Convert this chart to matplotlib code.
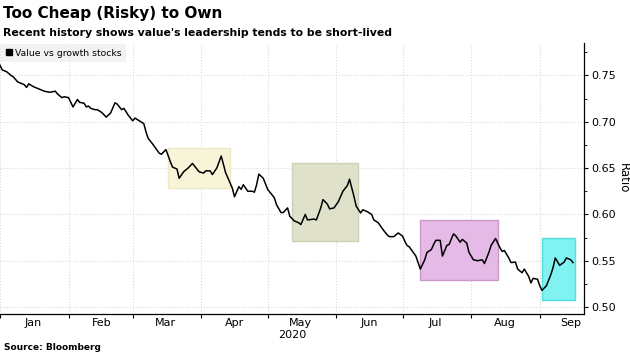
import matplotlib
matplotlib.use("Agg")
import matplotlib.pyplot as plt
import matplotlib.dates as mdates
from matplotlib.lines import Line2D
import pandas as pd

# value vs growth ratio (2020)
day_labels = [
    "01-01", "01-02", "01-04", "01-06", "01-07", "01-09", "01-12", "01-13", "01-14", "01-16",
    "01-18", "01-21", "01-23", "01-24", "01-26", "01-27", "01-29", "01-30", "02-01", "02-03",
    "02-05", "02-06", "02-08", "02-09", "02-10", "02-11", "02-13", "02-14", "02-16", "02-18",
    "02-20", "02-22", "02-23", "02-25", "02-26", "02-28", "03-01", "03-02", "03-04", "03-06",
    "03-07", "03-08", "03-10", "03-13", "03-14", "03-16", "03-18", "03-19", "03-21", "03-22",
    "03-24", "03-26", "03-28", "03-30", "03-31", "04-02", "04-03", "04-05", "04-06", "04-08",
    "04-10", "04-12", "04-15", "04-16", "04-18", "04-19", "04-20", "04-22", "04-24", "04-25",
    "04-26", "04-27", "04-29", "05-01", "05-02", "05-04", "05-05", "05-07", "05-08", "05-10",
    "05-11", "05-13", "05-15", "05-16", "05-18", "05-19", "05-22", "05-23", "05-25", "05-26",
    "05-28", "05-29", "05-31", "06-02", "06-04", "06-06", "06-07", "06-09", "06-10", "06-12",
    "06-13", "06-15", "06-17", "06-18", "06-20", "06-22", "06-24", "06-25", "06-27", "06-29",
    "07-01", "07-02", "07-03", "07-04", "07-07", "07-08", "07-09", "07-11", "07-12", "07-14",
    "07-15", "07-16", "07-18", "07-19", "07-21", "07-22", "07-24", "07-25", "07-27", "07-28",
    "07-30", "07-31", "08-02", "08-04", "08-06", "08-07", "08-09", "08-10", "08-12", "08-14",
    "08-15", "08-16", "08-18", "08-19", "08-21", "08-22", "08-24", "08-25", "08-27", "08-28",
    "08-29", "08-31", "09-01", "09-02", "09-04", "09-06", "09-07", "09-08", "09-10", "09-12",
    "09-13", "09-15", "09-16",
]
ratio = [
    0.761, 0.756, 0.754, 0.750, 0.7485, 0.743, 0.740, 0.737, 0.741, 0.738,
    0.736, 0.733, 0.732, 0.732, 0.733, 0.730, 0.726, 0.727, 0.726, 0.716,
    0.724, 0.721, 0.720, 0.716, 0.717, 0.7145, 0.713, 0.713, 0.710, 0.705,
    0.7095, 0.7205, 0.719, 0.713, 0.7145, 0.707, 0.701, 0.704, 0.701, 0.698,
    0.689, 0.682, 0.676, 0.666, 0.665, 0.670, 0.657, 0.651, 0.649, 0.639,
    0.646, 0.650, 0.655, 0.649, 0.646, 0.6446, 0.647, 0.647, 0.643, 0.650,
    0.663, 0.645, 0.6285, 0.619, 0.630, 0.627, 0.632, 0.625, 0.625, 0.624,
    0.632, 0.6435, 0.639, 0.627, 0.624, 0.618, 0.6105, 0.602, 0.602, 0.607,
    0.598, 0.593, 0.591, 0.589, 0.600, 0.594, 0.595, 0.594, 0.607, 0.616,
    0.611, 0.606, 0.607, 0.614, 0.625, 0.631, 0.638, 0.6195, 0.609, 0.6016,
    0.605, 0.603, 0.600, 0.594, 0.591, 0.584, 0.578, 0.576, 0.576, 0.580,
    0.5765, 0.571, 0.5665, 0.565, 0.555, 0.548, 0.541, 0.551, 0.559, 0.562,
    0.5675, 0.572, 0.572, 0.555, 0.5665, 0.5675, 0.579, 0.577, 0.570, 0.573,
    0.569, 0.559, 0.551, 0.550, 0.551, 0.547, 0.559, 0.5665, 0.574, 0.564,
    0.560, 0.561, 0.553, 0.548, 0.5485, 0.541, 0.537, 0.541, 0.533, 0.526,
    0.531, 0.530, 0.523, 0.518, 0.523, 0.535, 0.5425, 0.553, 0.545, 0.5485,
    0.553, 0.551, 0.548,
]

# highlighted stretches of value leadership
box_start = ["03-17", "05-12", "07-09", "09-02"]
box_end = ["04-14", "06-11", "08-13", "09-17"]
box_low = [0.629, 0.571, 0.529, 0.508]
box_high = [0.672, 0.656, 0.594, 0.575]
box_face = ["#f7f4d8", "#e0e1ca", "#e6bae6", "#80f2f2"]
box_edge = ["#eeeac4", "#cfd0b4", "#c99ac9", "#55dede"]

month_labels = ["Jan", "Feb", "Mar", "Apr", "May", "Jun", "Jul", "Aug", "Sep"]
y_ticks = [0.50, 0.55, 0.60, 0.65, 0.70, 0.75]

dates = pd.to_datetime(["2020-" + d for d in day_labels])

fig = plt.figure(figsize=(6.3, 3.54), dpi=100)
ax = fig.add_axes([0.0, 0.113, 0.927, 0.7655])

for s, e, lo, hi, fc, ec in zip(box_start, box_end, box_low, box_high, box_face, box_edge):
    x0 = mdates.date2num(pd.Timestamp("2020-" + s))
    x1 = mdates.date2num(pd.Timestamp("2020-" + e))
    ax.add_patch(plt.Rectangle((x0, lo), x1 - x0, hi - lo, facecolor=fc,
                               edgecolor=ec, lw=1.0, zorder=1))

ax.plot(dates, ratio, color="black", lw=1.1, zorder=3)

ax.set_xlim(pd.Timestamp("2020-01-01"), pd.Timestamp("2020-09-21"))
ax.set_ylim(0.4925, 0.785)

# month boundaries carry the tick marks, names sit mid-month
month_starts = pd.date_range("2020-01-01", "2020-09-01", freq="MS")
label_pos = [m + pd.Timedelta(days=15) for m in month_starts[:-1]] + [pd.Timestamp("2020-09-15")]
ax.set_xticks(month_starts, minor=True)
ax.set_xticks(label_pos)
ax.set_xticklabels(month_labels)
ax.tick_params(axis="x", which="major", length=0, labelsize=8, pad=3)
ax.tick_params(axis="x", which="minor", length=3, width=0.8, direction="out")

ax.yaxis.tick_right()
ax.yaxis.set_label_position("right")
ax.set_yticks(y_ticks)
ax.set_yticklabels([f"{v:.2f}" for v in y_ticks])
ax.set_yticks([0.525, 0.575, 0.625, 0.675, 0.725, 0.775], minor=True)
ax.tick_params(axis="y", which="major", length=3, width=0.8, labelsize=8, pad=2)
ax.tick_params(axis="y", which="minor", length=2, width=0.6)
ax.set_ylabel("Ratio", rotation=-90, fontsize=8.5, labelpad=10)

ax.grid(True, which="major", axis="y", color="#d9d9d9", ls=":", lw=0.8)
ax.grid(True, which="minor", axis="x", color="#d9d9d9", ls=":", lw=0.8)
ax.set_axisbelow(True)

for side in ["left", "top"]:
    ax.spines[side].set_visible(False)
ax.spines["right"].set_linewidth(0.9)
ax.spines["bottom"].set_linewidth(0.9)

handle = Line2D([], [], marker="s", color="black", ls="none", markersize=4)
leg = ax.legend([handle], ["Value vs growth stocks"], loc="upper left",
                bbox_to_anchor=(0.0, 1.0), borderaxespad=0.1, fontsize=6.7,
                frameon=True, fancybox=False, handletextpad=0.2,
                handlelength=0.8, borderpad=0.5)
leg.get_frame().set_facecolor("#efefef")
leg.get_frame().set_edgecolor("none")

fig.text(0.004, 0.962, "Too Cheap (Risky) to Own", fontsize=11,
         fontweight="bold", va="center", ha="left")
fig.text(0.004, 0.908, "Recent history shows value's leadership tends to be short-lived",
         fontsize=7.8, fontweight="bold", va="center", ha="left")
fig.text(0.464, 0.053, "2020", fontsize=8, va="center", ha="center")
fig.text(0.006, 0.018, "Source: Bloomberg", fontsize=6.5, fontweight="bold",
         va="center", ha="left")

fig.savefig("out.png", dpi=100)
